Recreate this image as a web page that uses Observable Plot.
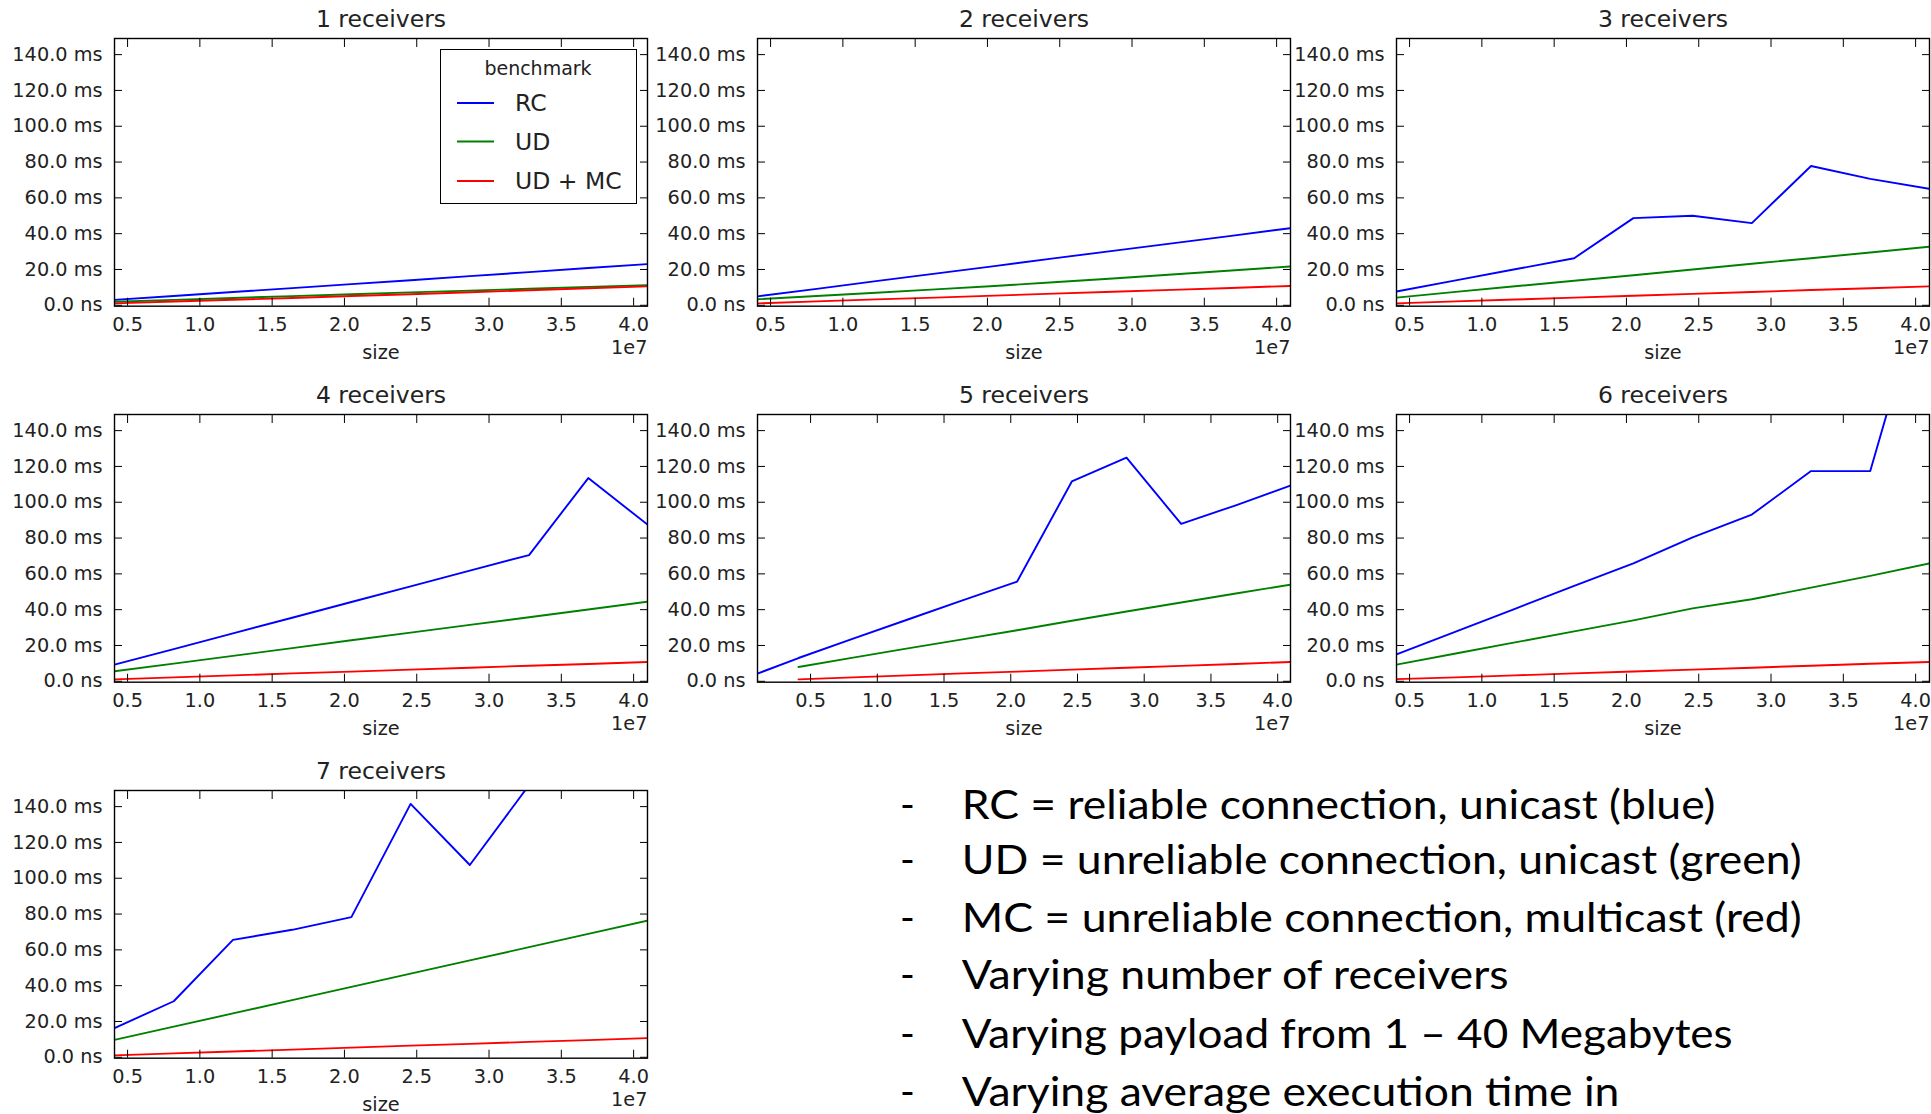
<!DOCTYPE html>
<html><head><meta charset="utf-8">
<script src="https://cdn.jsdelivr.net/npm/d3@7"></script>
<script src="https://cdn.jsdelivr.net/npm/@observablehq/plot@0.6"></script>
<style>
html,body{margin:0;padding:0;background:#fff;overflow:hidden;}
#root{position:relative;width:1931px;height:1114px;font-family:"DejaVu Sans",sans-serif;color:#222;}
.panel{position:absolute;}
.panel svg{overflow:visible;background:transparent;max-width:none;}
#legend{position:absolute;left:439.6px;top:49.3px;width:197px;height:155px;box-sizing:border-box;border:1.4px solid #000;background:#fff;}
#notes{position:absolute;left:0;top:0;}
</style></head><body><div id="root"></div>
<script>
// ---- data ----
const titles = ["1 receivers", "2 receivers", "3 receivers", "4 receivers", "5 receivers", "6 receivers", "7 receivers"];
const benchmarks = ["RC", "UD", "UD + MC"];
const colors = ["#0000ff", "#008000", "#ff0000"];
const sizes = [4096000, 8192000, 12288000, 16384000, 20480000, 24576000, 28672000, 32768000, 36864000, 40960000];
const sizesRC5 = [1024000, 4096000, 8192000, 12288000, 16384000, 20480000, 24576000, 28672000, 32768000, 36864000, 40960000];
const xTicks = [5e6, 1e7, 1.5e7, 2e7, 2.5e7, 3e7, 3.5e7, 4e7];
const yTicks = [0, 20, 40, 60, 80, 100, 120, 140];

const rc1 = [3.0, 5.2, 7.4, 9.6, 11.8, 14.0, 16.3, 18.5, 20.8, 23.0];
const rc2 = [5.0, 9.2, 13.5, 17.7, 21.9, 26.2, 30.4, 34.6, 38.8, 43.1];
const rc3 = [7.7, 13.9, 20.1, 26.3, 48.7, 50.0, 45.9, 77.8, 70.6, 65.0];
const rc4 = [9.3, 18.0, 26.8, 35.5, 44.3, 53.0, 61.8, 70.5, 113.5, 87.5];
const rc5 = [4.3, 13.0, 23.8, 34.5, 45.2, 55.7, 111.6, 124.9, 87.9, 98.3, 109.3];
const rc6 = [15.0, 27.7, 40.5, 53.3, 65.8, 80.4, 93.1, 117.4, 117.4, 232.0];
const rc7 = [16.3, 31.3, 65.6, 71.2, 78.3, 141.5, 107.4, 152.0, 175.0, 190.0];

const ud1 = [2.0, 3.0, 4.1, 5.1, 6.2, 7.2, 8.2, 9.2, 10.3, 11.3];
const ud2 = [3.4, 5.2, 7.0, 8.9, 10.8, 12.9, 15.0, 17.2, 19.4, 21.7];
const ud3 = [4.3, 7.5, 10.6, 13.7, 16.8, 20.0, 23.2, 26.3, 29.5, 32.7];
const ud4 = [5.6, 9.9, 14.2, 18.5, 22.9, 27.2, 31.5, 35.8, 40.1, 44.5];
const ud5 = [8.0, 13.2, 18.4, 23.4, 28.5, 33.8, 39.0, 44.0, 49.0, 54.0];
const ud6 = [9.3, 15.5, 21.7, 27.9, 34.0, 40.7, 45.8, 52.3, 58.9, 65.8];
const ud7 = [9.7, 17.1, 24.5, 31.9, 39.3, 46.7, 54.1, 61.5, 68.9, 76.3];

const mc1 = [1.1, 2.1, 3.1, 4.1, 5.2, 6.2, 7.3, 8.4, 9.5, 10.6];
const mc2 = [1.1, 2.2, 3.3, 4.3, 5.4, 6.5, 7.6, 8.6, 9.7, 10.8];
const mc3 = [1.1, 2.2, 3.2, 4.3, 5.3, 6.4, 7.4, 8.5, 9.5, 10.6];
const mc4 = [1.1, 2.2, 3.3, 4.4, 5.4, 6.5, 7.6, 8.7, 9.7, 10.8];
const mc5 = [1.1, 2.2, 3.3, 4.4, 5.4, 6.5, 7.6, 8.6, 9.7, 10.8];
const mc6 = [1.2, 2.2, 3.3, 4.4, 5.5, 6.5, 7.6, 8.7, 9.8, 10.8];
const mc7 = [1.1, 2.2, 3.2, 4.3, 5.4, 6.5, 7.5, 8.6, 9.6, 10.7];

const notes = [
  "RC = reliable connection, unicast (blue)",
  "UD = unreliable connection, unicast (green)",
  "MC = unreliable connection, multicast (red)",
  "Varying number of receivers",
  "Varying payload from 1 \u2013 40 Megabytes",
  "Varying average execution time in"
];

// ---- layout ----
const rcAll = [rc1, rc2, rc3, rc4, rc5, rc6, rc7];
const udAll = [ud1, ud2, ud3, ud4, ud5, ud6, ud7];
const mcAll = [mc1, mc2, mc3, mc4, mc5, mc6, mc7];
const colLeft = [114.3, 756.7, 1395.5];
const rowTop = [38.3, 414, 790];
const FW = 533, FH = 267.7;
const ML = 110, MR = 6, MT = 44, MB = 62;
const TICK_FS = 19.3;
const root = document.getElementById("root");

titles.forEach((title, i) => {
  const rcX = i === 4 ? sizesRC5 : sizes;
  const rows = [];
  rcAll[i].forEach((v, j) => rows.push({size: rcX[j], time: v, benchmark: benchmarks[0]}));
  udAll[i].forEach((v, j) => rows.push({size: sizes[j], time: v, benchmark: benchmarks[1]}));
  mcAll[i].forEach((v, j) => rows.push({size: sizes[j], time: v, benchmark: benchmarks[2]}));
  const xmin = d3.min(rows, d => d.size), xmax = d3.max(rows, d => d.size);
  const plot = Plot.plot({
    width: ML + FW + MR, height: MT + FH + MB,
    marginLeft: ML, marginRight: MR, marginTop: MT, marginBottom: MB,
    style: {background: "transparent", overflow: "visible", fontFamily: "DejaVu Sans, sans-serif", color: "#222"},
    x: {domain: [xmin, xmax]},
    y: {domain: [-0.5, 149]},
    color: {domain: benchmarks, range: colors},
    marks: [
      Plot.line(rows, {x: "size", y: "time", z: "benchmark", stroke: "benchmark", strokeWidth: 1.9, clip: true}),
      Plot.frame({stroke: "#000", strokeWidth: 1.4}),
      Plot.axisX(xTicks, {anchor: "bottom", tickSize: -8, tickPadding: 19, stroke: "#000", tickFormat: d => (d / 1e7).toFixed(1), fontSize: TICK_FS, label: null}),
      Plot.axisX(xTicks, {anchor: "top", tickSize: -8, stroke: "#000", tickFormat: () => "", label: null}),
      Plot.axisY(yTicks, {anchor: "left", tickSize: -8, tickPadding: 20, stroke: "#000", tickFormat: d => d === 0 ? "0.0 ns" : d.toFixed(1) + " ms", fontSize: TICK_FS, label: null}),
      Plot.axisY(yTicks, {anchor: "right", tickSize: -8, stroke: "#000", tickFormat: () => "", label: null}),
      Plot.text([title], {text: d => d, frameAnchor: "top", dy: -19.3, lineAnchor: "middle", fontSize: 23.5}),
      Plot.text(["size"], {text: d => d, frameAnchor: "bottom", dy: 47, lineAnchor: "middle", fontSize: TICK_FS}),
      Plot.text(["1e7"], {text: d => d, frameAnchor: "bottom-right", textAnchor: "end", dy: 42, lineAnchor: "middle", fontSize: TICK_FS})
    ]
  });
  const div = document.createElement("div");
  div.className = "panel";
  div.style.left = (colLeft[i % 3] - ML) + "px";
  div.style.top = (rowTop[Math.floor(i / 3)] - MT) + "px";
  div.appendChild(plot);
  root.appendChild(div);
});

// ---- legend (panel 1) ----
const leg = document.createElement("div");
leg.id = "legend";
root.appendChild(leg);
const lsvg = d3.select(leg).append("svg").attr("width", 195).attr("height", 153)
  .style("position", "absolute").style("left", "0").style("top", "0")
  .style("font-family", "DejaVu Sans, sans-serif");
lsvg.append("text").attr("x", 97).attr("y", 18).attr("text-anchor", "middle")
  .attr("dominant-baseline", "central").attr("font-size", 19).attr("fill", "#222").text("benchmark");
const legY = [53, 91.5, 131];
benchmarks.forEach((b, k) => {
  lsvg.append("line").attr("x1", 16).attr("x2", 53).attr("y1", legY[k]).attr("y2", legY[k])
    .attr("stroke", colors[k]).attr("stroke-width", 1.9);
  lsvg.append("text").attr("x", 74).attr("y", legY[k]).attr("dominant-baseline", "central")
    .attr("font-size", 23.5).attr("fill", "#222").text(b);
});

// ---- notes text block ----
const noteBase = [818.5, 874.3, 931.8, 988.8, 1047.8, 1105.8];
const noteWidth = [753.8, 840, 840, 546.9, 771, 657.7];
const nsvg = d3.select(root).append("svg").attr("id", "notes").attr("width", 1931).attr("height", 1114)
  .style("font-family", "Lato, 'Open Sans', sans-serif");
notes.forEach((t, k) => {
  nsvg.append("text").attr("x", 900).attr("y", noteBase[k]).attr("font-size", 40).attr("fill", "#000").text("-");
  nsvg.append("text").attr("x", 961.7).attr("y", noteBase[k]).attr("font-size", 40).attr("fill", "#000")
    .attr("textLength", noteWidth[k]).attr("lengthAdjust", "spacingAndGlyphs").text(t);
});
</script></body></html>
